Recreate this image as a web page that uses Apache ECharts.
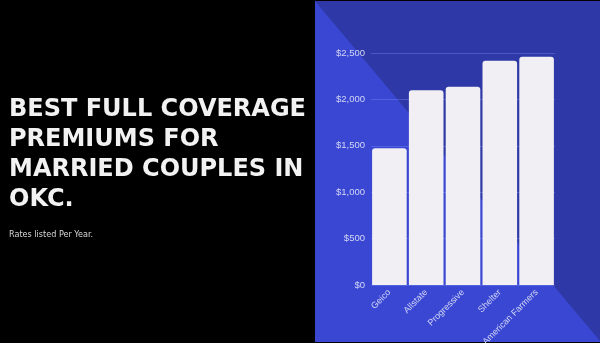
<!DOCTYPE html>
<html>
<head>
<meta charset="utf-8">
<script src="https://cdn.jsdelivr.net/npm/echarts@6/dist/echarts.min.js"></script>
<style>
html,body{margin:0;padding:0;background:#000;}
#chart{width:600px;height:343px;}
</style>
</head>
<body>
<div id="chart"></div>
<script>
var categories = ['Geico', 'Allstate', 'Progressive', 'Shelter', 'American Farmers'];
var premiums = [1473, 2098, 2137, 2417, 2460];
var yTicks = [0, 500, 1000, 1500, 2000, 2500];
var titleLines = ['BEST FULL COVERAGE', 'PREMIUMS FOR', 'MARRIED COUPLES IN', 'OKC.'];
var subtitle = 'Rates listed Per Year.';

var chart = echarts.init(document.getElementById('chart'), null, {renderer: 'canvas'});
chart.setOption({
  backgroundColor: '#000',
  animation: false,
  title: [{
    text: titleLines.join('\n'),
    left: 9,
    top: 95,
    padding: 0,
    textStyle: {
      color: '#f2f2f2',
      fontFamily: 'DejaVu Sans',
      fontWeight: 'bold',
      fontSize: 24,
      lineHeight: 30
    }
  }, {
    text: subtitle,
    left: 9,
    top: 230,
    padding: 0,
    textStyle: {
      color: '#d8d8d8',
      fontFamily: 'Liberation Sans Narrow, DejaVu Sans Condensed, sans-serif',
      fontWeight: 'normal',
      fontSize: 9
    }
  }],
  graphic: [{
    type: 'rect',
    z: -10,
    shape: {x: 315, y: 1, width: 285, height: 341},
    style: {fill: '#3a47d3'},
    silent: true
  }, {
    type: 'polygon',
    z: -9,
    shape: {points: [[315, 1], [600, 1], [600, 341]]},
    style: {fill: '#2e38a7'},
    silent: true
  }],
  grid: {left: 371, right: 45, top: 53, bottom: 58, containLabel: false, outerBoundsMode: 'none'},
  xAxis: {
    type: 'category',
    data: categories,
    axisLine: {show: false},
    axisTick: {show: false},
    axisLabel: {
      rotate: 45,
      interval: 0,
      color: '#d3d7f6',
      fontSize: 9,
      fontFamily: 'Liberation Sans, Arial, sans-serif',
      margin: 6
    }
  },
  yAxis: {
    type: 'value',
    min: yTicks[0],
    max: yTicks[yTicks.length - 1],
    interval: yTicks[1] - yTicks[0],
    axisLine: {show: false},
    axisTick: {show: false},
    splitLine: {lineStyle: {color: 'rgba(110,130,240,0.45)', width: 1}},
    axisLabel: {
      color: '#d3d7f6',
      fontSize: 9.5,
      fontFamily: 'Liberation Sans, Arial, sans-serif',
      margin: 6,
      formatter: function (v) { return '$' + v.toLocaleString('en-US'); }
    }
  },
  series: [{
    type: 'bar',
    data: premiums,
    barCategoryGap: '6%',
    itemStyle: {color: '#f1eff4', borderRadius: [3, 3, 0, 0]}
  }]
});
</script>
</body>
</html>
